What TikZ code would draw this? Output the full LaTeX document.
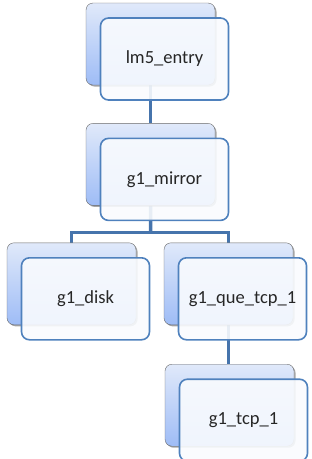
\documentclass[tikz,border=0pt]{standalone}
\usepackage{fontspec}
\setmainfont{Carlito}
\usetikzlibrary{positioning,calc,backgrounds,shadows}
\definecolor{smartblue}{RGB}{79,129,189}
\definecolor{connblue}{RGB}{70,116,172}
\definecolor{backtop}{RGB}{224,233,250}
\definecolor{backbot}{RGB}{158,188,246}
\definecolor{backline}{RGB}{105,105,105}
\definecolor{frontfill}{RGB}{249,251,254}
\tikzset{
    backblk/.style={rectangle, draw=backline, thin, top color=backtop, bottom color=backbot,
                    rounded corners=7pt, minimum width=129pt, minimum height=82pt,
                    drop shadow={shadow xshift=1.5pt, shadow yshift=-1.5pt, opacity=0.35, fill=black}},
    frontblk/.style={rectangle, draw=smartblue, line width=1.6pt, fill=frontfill, fill opacity=0.9,
                     text opacity=1, text=black!85, rounded corners=8pt, minimum width=128pt,
                     minimum height=82pt, font=\fontsize{18.5}{22}\selectfont},
    conn/.style={draw=connblue, line width=3.5pt},
}
\begin{document}
\begin{tikzpicture}[x=1pt, y=-1pt, node distance=38pt]
    \useasboundingbox (0,0) rectangle (312,459);
    % back cards of the hierarchy
    \node[backblk]                                   (entry)  at (150.5,44) {};
    \node[backblk, below=of entry]                   (mirror) {};
    \node[backblk, below=37pt of mirror, xshift=-79pt] (disk)   {};
    \node[backblk, below=37pt of mirror, xshift=78pt]  (quetcp) {};
    \node[backblk, below=39pt of quetcp, xshift=1pt]   (tcp)    {};

    % front cards with the labels
    \foreach \n/\t in {entry/lm5\_entry, mirror/g1\_mirror, disk/g1\_disk,
                       quetcp/g1\_que\_tcp\_1, tcp/g1\_tcp\_1}
        \node[frontblk] (\n F) at ($(\n)+(14,15)$) {\t};

    \begin{scope}[on background layer]
        \coordinate (fork) at ($(mirror.south)!0.73!(mirror.south |- disk.north)$);
        \draw[conn] (entry.south) -- (mirror.north);
        \draw[conn] (mirror.south) -- (fork);
        \draw[conn] (disk.north) |- (fork) -| (quetcp.north);
        \draw[conn] (quetcp.south) -- (tcp.north -| quetcp.south);
    \end{scope}
\end{tikzpicture}
\end{document}
